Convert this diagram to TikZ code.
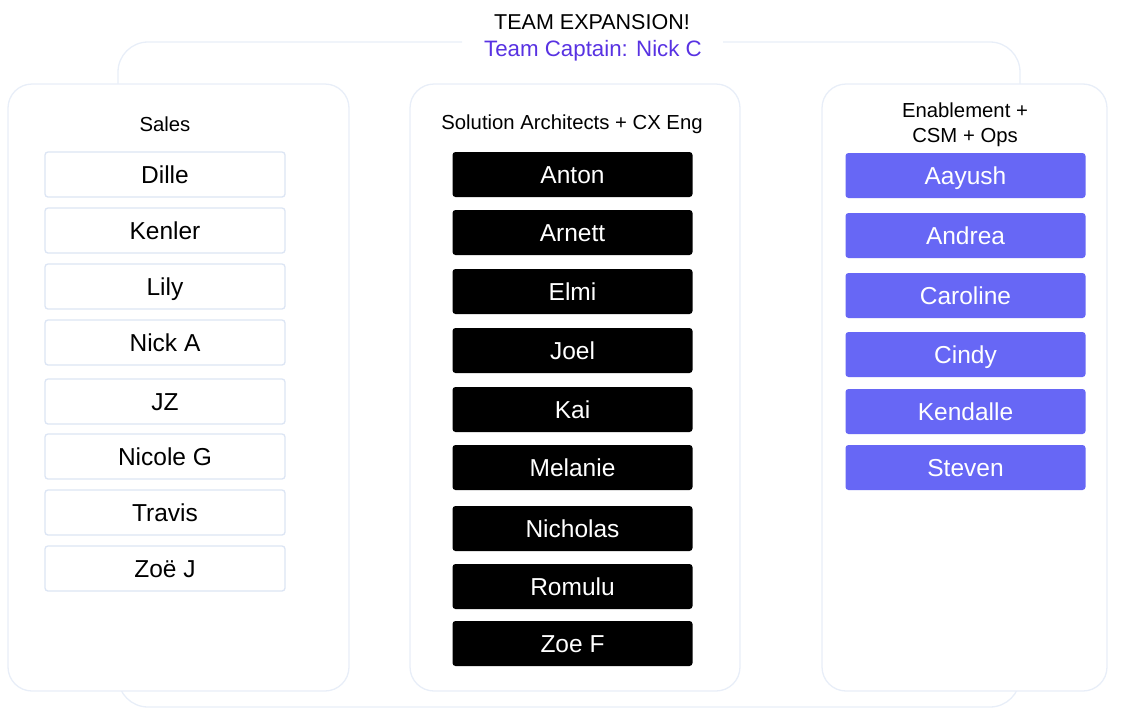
\documentclass[tikz,border=0pt]{standalone}
\usepackage{fontspec}
\setmainfont{Liberation Sans}
\usepackage{tikz}
\usetikzlibrary{positioning}
\usepackage{xcolor}
\definecolor{tmframe}{RGB}{232,238,248}
\definecolor{tmborder}{RGB}{220,229,244}
\definecolor{tmpurple}{RGB}{103,103,245}
\definecolor{tmcaptain}{RGB}{88,50,226}
\tikzstyle{frame} = [draw=tmframe, line width=1.3pt, rounded corners=30pt]
\tikzstyle{panel} = [rectangle, rounded corners=24pt, draw=tmframe, fill=white, line width=1.3pt, inner sep=0pt, outer sep=0pt, anchor=north west]
\tikzstyle{namebox} = [rectangle, rounded corners=3pt, minimum width=240pt, minimum height=45pt, inner sep=0pt, outer sep=0pt, text height=18pt, text depth=1pt, text centered, font=\fontsize{24.5}{28}\selectfont]
\tikzstyle{salesbox} = [namebox, draw=tmborder, fill=white, line width=1.3pt]
\tikzstyle{archbox} = [namebox, fill=black, text=white]
\tikzstyle{enabox} = [namebox, fill=tmpurple, text=white]
\tikzstyle{heading} = [font=\fontsize{20.3}{25}\selectfont, align=center]

\begin{document}
\begin{tikzpicture}[x=1pt, y=-1pt]
\useasboundingbox (0,0) rectangle (1125,718);
% Title
\node[font=\fontsize{21.5}{24}\selectfont] (title) at (592,22) {TEAM EXPANSION!};
\node[font=\fontsize{22.3}{24}\selectfont, text=tmcaptain] (captain) at (593,51) {Team Captain: Nick C};
\draw[frame] (462,42) -| (118,707) -| (1020,42) -- (723,42);
% Panels
\node[panel, minimum width=341pt, minimum height=607pt] (sales) at (8,84) {};
\node[panel, minimum width=330pt, minimum height=607pt] (arch) at (410,84) {};
\node[panel, minimum width=285pt, minimum height=607pt] (ena) at (822,84) {};
% Headings
\node[heading] (hsales) at (165,124) {Sales};
\node[heading] (harch) at (572,124) {Solution Architects + CX Eng};
\node[heading] (hena) at (965,125) {Enablement +\\CSM + Ops};
% Sales
\node[salesbox] (dille) at (165,174.5) {Dille};
\node[salesbox] (kenler) at (165,230.5) {Kenler};
\node[salesbox] (lily) at (165,286.5) {Lily};
\node[salesbox] (nicka) at (165,342.5) {Nick A};
\node[salesbox] (jz) at (165,401.5) {JZ};
\node[salesbox] (nicoleg) at (165,456.5) {Nicole G};
\node[salesbox] (travis) at (165,512.5) {Travis};
\node[salesbox] (zoej) at (165,568.5) {Zoë J};
% Solution Architects + CX Eng
\node[archbox] (anton) at (572.5,174.5) {Anton};
\node[archbox] (arnett) at (572.5,232.5) {Arnett};
\node[archbox] (elmi) at (572.5,291.5) {Elmi};
\node[archbox] (joel) at (572.5,350.5) {Joel};
\node[archbox] (kai) at (572.5,409.5) {Kai};
\node[archbox] (melanie) at (572.5,467.5) {Melanie};
\node[archbox] (nicholas) at (572.5,528.5) {Nicholas};
\node[archbox] (romulu) at (572.5,586.5) {Romulu};
\node[archbox] (zoef) at (572.5,643.5) {Zoe F};
% Enablement + CSM + Ops
\node[enabox] (aayush) at (965.5,175.5) {Aayush};
\node[enabox] (andrea) at (965.5,235.5) {Andrea};
\node[enabox] (caroline) at (965.5,295.5) {Caroline};
\node[enabox] (cindy) at (965.5,354.5) {Cindy};
\node[enabox] (kendalle) at (965.5,411.5) {Kendalle};
\node[enabox] (steven) at (965.5,467.5) {Steven};
\end{tikzpicture}
\end{document}
